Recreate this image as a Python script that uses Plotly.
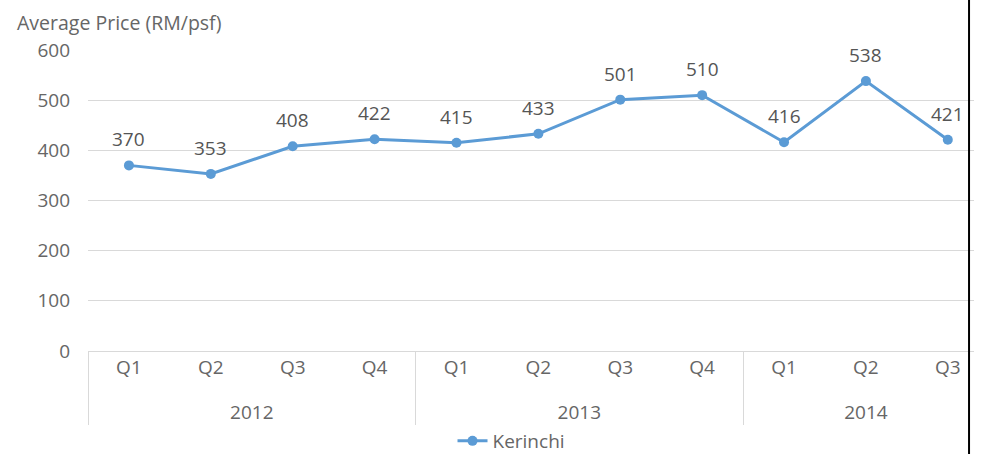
import plotly.graph_objects as go

years = ["2012"] * 4 + ["2013"] * 4 + ["2014"] * 3
quarters = ["Q1", "Q2", "Q3", "Q4", "Q1", "Q2", "Q3", "Q4", "Q1", "Q2", "Q3"]
prices = [370, 353, 408, 422, 415, 433, 501, 510, 416, 538, 421]
y_ticks = [0, 100, 200, 300, 400, 500, 600]

FONT = "Open Sans"
GRAY = "#666666"
DARK = "#555555"
BLUE = "#5B9BD5"
FS = 19

# pad the primary (quarter) labels so the year row sits lower, as in the reference
quarter_labels = [q + "<br><span style='font-size:5px'> </span>" for q in quarters]

fig = go.Figure()
fig.add_trace(go.Scatter(
    x=[years, quarter_labels], y=prices, mode="lines+markers", name="Kerinchi",
    line=dict(color=BLUE, width=3), marker=dict(size=10, color=BLUE),
))

for i, p in enumerate(prices):
    fig.add_annotation(x=i, y=p, xref="x", yref="y", text=str(p), showarrow=False,
                       yshift=26, font=dict(family=FONT, size=FS, color=DARK))

fig.add_annotation(x=0, y=1, xref="paper", yref="paper", text="Average Price (RM/psf)",
                   showarrow=False, xanchor="left", yanchor="middle",
                   xshift=-73, yshift=28,
                   font=dict(family=FONT, size=19.5, color=GRAY))

fig.update_layout(
    width=981, height=454,
    margin=dict(l=88, r=7, t=50, b=103),
    paper_bgcolor="white", plot_bgcolor="white",
    font=dict(family=FONT, size=FS, color=GRAY),
    showlegend=True,
    legend=dict(orientation="h", x=0.478, xanchor="center", xref="paper",
                y=0.0286, yanchor="middle", yref="container",
                font=dict(family=FONT, size=FS, color=GRAY)),
    xaxis=dict(type="multicategory", range=[-0.5, 10.32], showgrid=False,
               showdividers=True, dividercolor="#d9d9d9", dividerwidth=1,
               ticklabelstandoff=3, automargin=False,
               tickfont=dict(family=FONT, size=FS, color=GRAY), showline=False),
    yaxis=dict(range=[0, 600], tickvals=y_ticks, showgrid=True, gridcolor="#d9d9d9",
               gridwidth=1, zeroline=True, zerolinecolor="#d9d9d9", zerolinewidth=1,
               ticklabelstandoff=17, automargin=False,
               tickfont=dict(family=FONT, size=FS, color=GRAY),
               showline=False),
)
fig.add_shape(type="line", xref="paper", yref="paper", x0=0.9944, x1=0.9944, y0=-0.4, y1=1.2,
              line=dict(color="black", width=2))
fig.write_html("out.html")
